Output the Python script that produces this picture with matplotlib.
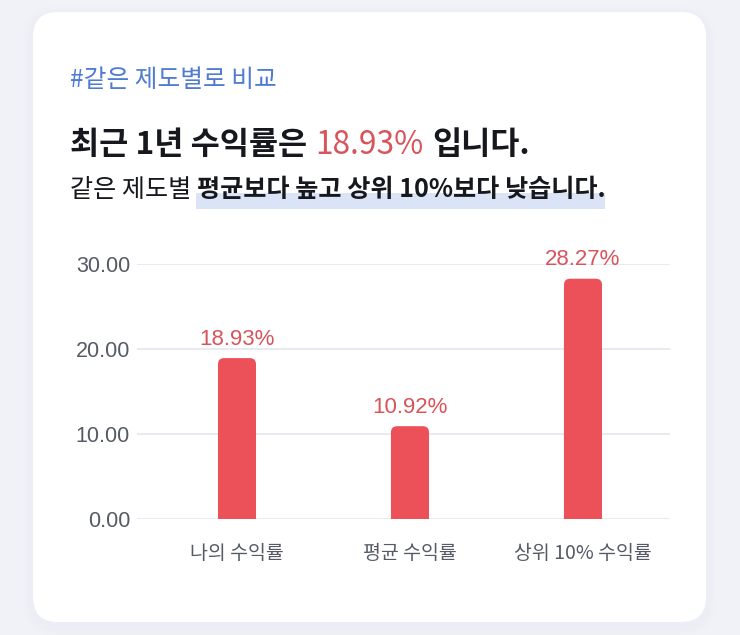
import matplotlib
matplotlib.use("Agg")
import matplotlib.pyplot as plt
from matplotlib.patches import FancyBboxPatch, Rectangle

# 데이터
categories = ["나의 수익률", "평균 수익률", "상위 10% 수익률"]
rates = [18.93, 10.92, 28.27]
yticks = [0, 10, 20, 30]

tag_text = "#같은 제도별로 비교"
title_pre = "최근 1년 수익률은"
title_post = "입니다."
sub_pre = "같은 제도별"
sub_bold = "평균보다 높고 상위 10%보다 낮습니다."

# 색상
bg_color = "#f1f2f8"
bar_color = "#ec5159"
label_red = "#d8545b"
tag_blue = "#4f7bd3"
gray_text = "#555a66"
grid_color = "#e4e6ee"
hl_color = "#dbe3f6"

kr = ["Noto Sans CJK KR", "DejaVu Sans"]
num = ["Liberation Sans", "DejaVu Sans"]

W, H = 740, 635
fig = plt.figure(figsize=(W / 100, H / 100), dpi=100)
fig.patch.set_facecolor(bg_color)

# 배경 축 (픽셀 좌표)
bg = fig.add_axes([0, 0, 1, 1])
bg.set_xlim(0, W)
bg.set_ylim(H, 0)
bg.axis("off")

# 카드 그림자 + 카드
for i, a in enumerate([0.025, 0.03, 0.035]):
    g = 10 - i * 3
    bg.add_patch(FancyBboxPatch((33 - g, 12 - g + 4), 673 + 2 * g, 610 + 2 * g,
                                boxstyle=f"round,pad=0,rounding_size={25 + g}",
                                fc="#c9cdea", ec="none", alpha=a))
bg.add_patch(FancyBboxPatch((33, 12), 673, 610,
                            boxstyle="round,pad=0,rounding_size=25",
                            fc="white", ec="none"))

# 텍스트
bg.text(70, 80, tag_text, color=tag_blue, fontsize=17.8, family=kr, va="center", ha="left")

t1 = bg.text(70, 145, title_pre, color="#16181d", fontsize=22.8, family=kr,
             weight="bold", va="center", ha="left")
t2 = bg.annotate(f"{rates[0]:.2f}%", xy=(1, 0), xycoords=t1, xytext=(6, 0),
                 textcoords="offset points", color=label_red, fontsize=22.8,
                 family=kr, va="bottom", ha="left")
bg.annotate(title_post, xy=(1, 0), xycoords=t2, xytext=(6, 0),
            textcoords="offset points", color="#16181d", fontsize=22.8,
            family=kr, weight="bold", va="bottom", ha="left")

s1 = bg.text(70, 190, sub_pre, color="#16181d", fontsize=18.1, family=kr,
             va="center", ha="left")
s2 = bg.annotate(sub_bold, xy=(1, 0), xycoords=s1, xytext=(4, 0),
                 textcoords="offset points", color="#16181d", fontsize=18.1,
                 family=kr, weight="bold", va="bottom", ha="left", zorder=3)

# 차트
ax = fig.add_axes([137 / W, (H - 519) / H, 533 / W, 255 / H])
ax.set_facecolor("none")
x = list(range(len(categories)))
ax.set_xlim(-0.578, 2.503)
ax.set_ylim(0, 30)

bars = ax.bar(x, rates, width=0.22, color=bar_color, zorder=2)
aspect = (173 / 1.0) / (255 / 30)
for b in bars:
    b.set_visible(False)
    ax.add_patch(FancyBboxPatch((b.get_x(), -3), b.get_width(), b.get_height() + 3,
                                boxstyle="round,pad=0,rounding_size=0.036",
                                mutation_aspect=aspect, fc=bar_color, ec="none", zorder=2))

for xi, v in zip(x, rates):
    ax.annotate(f"{v:.2f}%", (xi, v), xytext=(0, 6), textcoords="offset points",
                ha="center", va="bottom", color=label_red, fontsize=16,
                family=num, clip_on=False)

ax.set_yticks(yticks)
ax.set_yticklabels([f"{t:.2f}" for t in yticks], family=num, fontsize=15.5, color=gray_text)
ax.set_xticks(x)
ax.set_xticklabels(categories, family=kr, fontsize=14, color=gray_text)
ax.tick_params(axis="y", length=0, pad=5)
ax.tick_params(axis="x", length=0, pad=17.5)
ax.yaxis.grid(True, color=grid_color, lw=1.2, zorder=0)
ax.set_axisbelow(True)
for s in ax.spines.values():
    s.set_visible(False)

# 하이라이트 (굵은 글씨 아래)
fig.canvas.draw()
ext = s2.get_window_extent()
inv = bg.transData.inverted()
(x0, _), (x1, _) = inv.transform([(ext.x0, ext.y0), (ext.x1, ext.y1)])
bg.add_patch(Rectangle((x0 - 1, 193), x1 - x0 + 1, 16, fc=hl_color, ec="none", zorder=1))

fig.savefig("out.png", dpi=100, facecolor=bg_color)
